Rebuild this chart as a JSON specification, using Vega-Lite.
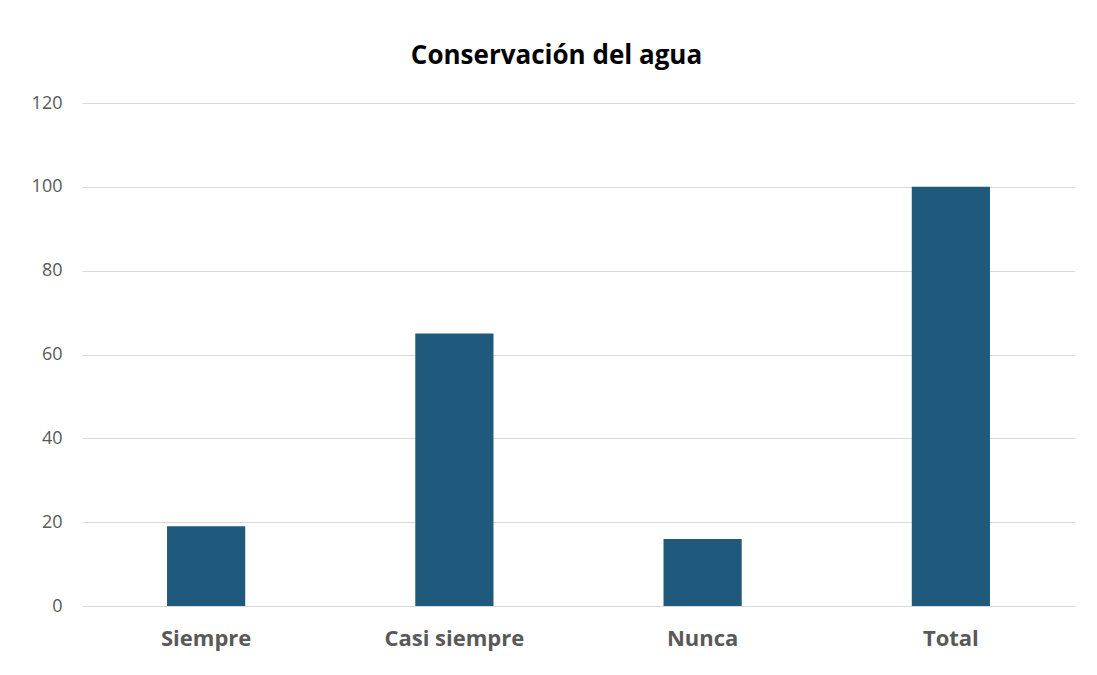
{
  "$schema": "https://vega.github.io/schema/vega-lite/v6.json",
  "autosize": "none",
  "width": 993,
  "height": 503,
  "padding": {"left": 82, "top": 103, "right": 22, "bottom": 69},
  "background": "white",
  "title": {
    "text": "Conservación del agua",
    "font": "Open Sans",
    "fontSize": 26,
    "fontWeight": "bold",
    "color": "#000000",
    "anchor": "middle",
    "frame": "group",
    "dx": -22,
    "offset": 25
  },
  "data": {
    "values": [
      {"categoria": "Siempre", "valor": 19},
      {"categoria": "Casi siempre", "valor": 65},
      {"categoria": "Nunca", "valor": 16},
      {"categoria": "Total", "valor": 100}
    ]
  },
  "mark": {"type": "bar", "color": "#1F5A7D"},
  "encoding": {
    "x": {
      "field": "categoria",
      "type": "nominal",
      "sort": null,
      "scale": {"paddingInner": 0.685, "paddingOuter": 0.3425},
      "axis": {
        "title": null,
        "labelAngle": 0,
        "labelFont": "Open Sans",
        "labelFontSize": 22,
        "labelFontWeight": "bold",
        "labelColor": "#595959",
        "labelPadding": 22,
        "ticks": false,
        "domain": false
      }
    },
    "y": {
      "field": "valor",
      "type": "quantitative",
      "scale": {"domain": [0, 120], "nice": false},
      "axis": {
        "title": null,
        "values": [0, 20, 40, 60, 80, 100, 120],
        "labelFont": "Open Sans",
        "labelFontSize": 18,
        "labelColor": "#595959",
        "labelPadding": 20,
        "ticks": false,
        "domain": false,
        "gridColor": "#D9D9D9",
        "gridWidth": 1
      }
    }
  },
  "config": {"view": {"stroke": null}}
}
